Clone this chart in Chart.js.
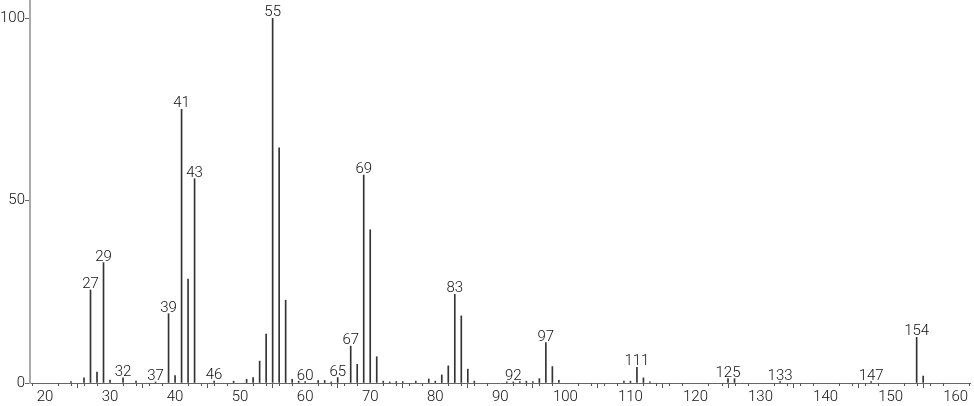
<!DOCTYPE html>
<html>
<head>
<meta charset="utf-8">
<script src="https://cdn.jsdelivr.net/npm/chart.js@4.4.1/dist/chart.umd.min.js"></script>
<style>
  html, body { margin: 0; padding: 0; background: #fff; }
  #wrap { width: 974px; height: 406px; }
</style>
</head>
<body>
<div id="wrap"><canvas id="plotarea"></canvas></div>
<script>
// m/z values and relative abundance
const mz = [24, 26, 27, 28, 29, 30, 32, 34, 37, 39, 40, 41, 42, 43, 46,
  49, 51, 52, 53, 54, 55, 56, 57, 58, 59, 60, 62, 63, 64, 65, 67, 68, 69, 70, 71,
  72, 73, 74, 75, 77, 79, 80, 81, 82, 83, 84, 85, 86,
  91, 92, 93, 94, 95, 96, 97, 98, 99, 109, 110, 111, 112, 113,
  125, 126, 133, 147, 154, 155];
const abundance = [0.4, 1.4, 25.5, 3, 33, 0.8, 1.4, 0.5, 0.3, 19, 2, 75, 28.5, 56, 0.5,
  0.5, 1, 1.5, 6, 13.4, 100, 64.5, 22.7, 1, 0.5, 0.4, 0.7, 0.7, 0.3, 1.5, 10.1, 5.1, 57, 42, 7.2,
  0.5, 0.3, 0.4, 0.4, 0.5, 1.1, 0.5, 2.2, 4.7, 24.3, 18.4, 3.8, 0.5,
  0.3, 0.3, 0.4, 0.5, 0.4, 1.2, 11.1, 4.5, 0.7, 0.5, 0.5, 4.3, 1.4, 0.3,
  1.2, 1.2, 0.4, 0.4, 12.5, 1.9];

// peaks that carry a number above them
const labeledPeaks = [27, 29, 32, 37, 39, 41, 43, 46, 55, 60, 65, 67, 69, 83, 92, 97, 111, 125, 133, 147, 154];

// axis ticks
const xTickLabels = [20, 30, 40, 50, 60, 70, 80, 90, 100, 110, 120, 130, 140, 150, 160];
const xMinorTicks = [];
for (let v = 18; v <= 162; v += 2) if (v % 10 !== 0) xMinorTicks.push(v);
const yTickLabels = [0, 50, 100];

const fontFamily = 'Roboto, "Liberation Sans", sans-serif';

// numbers over the labelled peaks
const peakLabels = {
  id: 'peakLabels',
  afterDatasetsDraw(chart) {
    const ctx = chart.ctx;
    const meta = chart.getDatasetMeta(0);
    ctx.save();
    ctx.font = '300 15px ' + fontFamily;
    ctx.fillStyle = '#111';
    ctx.textAlign = 'center';
    ctx.textBaseline = 'alphabetic';
    meta.data.forEach((bar, i) => {
      if (labeledPeaks.includes(mz[i])) {
        ctx.fillText(String(mz[i]), bar.x, bar.y - 2);
      }
    });
    ctx.restore();
  }
};

// short ticks every 2 units under the x axis
const minorTicks = {
  id: 'minorTicks',
  afterDraw(chart) {
    const ctx = chart.ctx;
    const xs = chart.scales.x;
    const y0 = chart.chartArea.bottom;
    ctx.save();
    ctx.strokeStyle = '#555';
    ctx.lineWidth = 1;
    ctx.beginPath();
    xMinorTicks.forEach(v => {
      const px = Math.round(xs.getPixelForValue(v)) + 0.5;
      ctx.moveTo(px, y0);
      ctx.lineTo(px, y0 + 3);
    });
    ctx.stroke();
    ctx.restore();
  }
};

const config = {
  type: 'bar',
  data: {
    datasets: [{
      data: mz.map((m, i) => ({ x: m, y: abundance[i] })),
      backgroundColor: '#333',
      borderWidth: 0,
      barThickness: 1,
      grouped: false
    }]
  },
  options: {
    responsive: true,
    maintainAspectRatio: false,
    animation: false,
    events: [],
    layout: { padding: { top: 0, right: 4, left: 0, bottom: 0 } },
    plugins: {
      legend: { display: false },
      tooltip: { enabled: false }
    },
    scales: {
      x: {
        type: 'linear',
        offset: false,
        min: 17.7,
        max: 162.2,
        afterBuildTicks: scale => {
          scale.ticks = xTickLabels.map(v => ({ value: v }));
        },
        afterFit: scale => {
          scale.height = 23;
          scale.paddingLeft = 0;
          scale.paddingRight = 0;
        },
        ticks: {
          autoSkip: false,
          maxRotation: 0,
          padding: 0,
          color: '#111',
          font: { family: fontFamily, size: 15, weight: 300 },
          callback: v => String(v)
        },
        grid: { drawOnChartArea: false, tickLength: 5, tickColor: '#555' },
        border: { color: '#666', width: 1 }
      },
      y: {
        min: 0,
        max: 105,
        afterBuildTicks: scale => {
          scale.ticks = yTickLabels.map(v => ({ value: v }));
        },
        afterFit: scale => {
          scale.width = 30;
          scale.paddingTop = 0;
          scale.paddingBottom = 0;
        },
        ticks: {
          padding: 0,
          color: '#111',
          font: { family: fontFamily, size: 15, weight: 300 },
          callback: v => String(v)
        },
        grid: { drawOnChartArea: false, tickLength: 5, tickColor: '#666' },
        border: { color: '#aaa', width: 2 }
      }
    }
  },
  plugins: [peakLabels, minorTicks]
};

const myChart = new Chart(document.getElementById('plotarea'), config);
</script>
</body>
</html>
